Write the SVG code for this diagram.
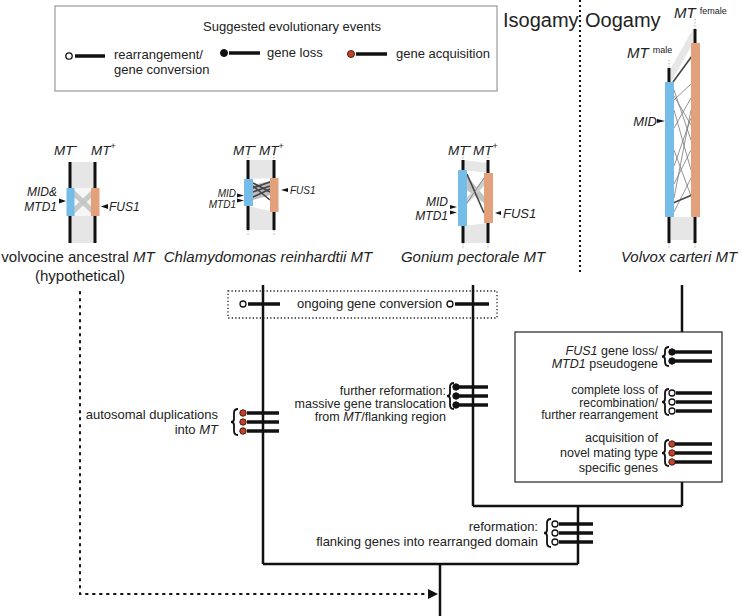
<svg xmlns="http://www.w3.org/2000/svg" width="742" height="616" viewBox="0 0 742 616">
<style>
text{font-family:"Liberation Sans",Arial,sans-serif;fill:#222}
.t13{font-size:13px}
.t12{font-size:12.5px}
.it{font-style:italic}
.end{text-anchor:end}
.mid{text-anchor:middle}
.title{font-size:15px}
.mt{font-size:13.5px;font-style:italic}
.mtv{font-size:15px;font-style:italic}
.sup{font-size:9px;font-style:normal}
.supm{font-size:12px;font-style:normal}
.lbl{font-size:12px;font-style:italic}
.chr{stroke:#111;stroke-width:3;fill:none}
.ext{stroke:#999;stroke-width:0.8;stroke-dasharray:1.5 1.5}
.band{fill:#e6e6e6}
.blue{fill:#74bde9}
.orange{fill:#e2a17b}
.cross{stroke:#777;stroke-width:0.8;fill:none}
.dark{stroke:#444;stroke-width:1.6;fill:none}
.tri{fill:#111}
.tree{stroke:#111;stroke-width:2.5;fill:none}
.bar{stroke:#111;stroke-width:3.5}
.brace{stroke:#111;stroke-width:1.8;fill:none}
.oc{fill:#fff;stroke:#111;stroke-width:1.3}
.bc{fill:#111;stroke:#111;stroke-width:1}
.rc{fill:#c0442a;stroke:#4a1a10;stroke-width:1}
.dot{stroke:#111;stroke-width:2;stroke-dasharray:1.6 5.4;stroke-linecap:round;fill:none}
</style>

<!-- Legend -->
<g id="legend">
  <rect x="55" y="6" width="442" height="85" fill="#fff" stroke="#9a9a9a" stroke-width="1.2"/>
  <text class="t13 mid" x="292" y="31">Suggested evolutionary events</text>
  <circle class="oc" cx="69" cy="56" r="3.2"/>
  <line class="bar" x1="75" y1="56" x2="105" y2="56"/>
  <text class="t13" x="114" y="59">rearrangement/</text>
  <text class="t13" x="114" y="74">gene conversion</text>
  <circle class="bc" cx="224" cy="53" r="3.5"/>
  <line class="bar" x1="229" y1="53" x2="260" y2="53"/>
  <text class="t13" x="267" y="57">gene loss</text>
  <circle class="rc" cx="351" cy="54" r="3.5"/>
  <line class="bar" x1="356" y1="54" x2="387" y2="54"/>
  <text class="t13" x="396" y="58">gene acquisition</text>
</g>

<!-- Isogamy / Oogamy -->
<g id="mode">
  <text x="503" y="27" style="font-size:20px">Isogamy</text>
  <text x="585" y="27" style="font-size:20px">Oogamy</text>
  <line x1="580" y1="0" x2="580" y2="273" stroke="#111" stroke-width="2" stroke-dasharray="2 3"/>
</g>

<!-- Ancestral MT -->
<g id="ancestral">
  <rect class="band" x="70" y="162" width="25" height="81"/>
  <rect x="74" y="188" width="18" height="28" fill="#f6f6f6"/>
  <polygon points="74,190 74,197 92,214 92,207" fill="#c4c4c4" opacity="0.9"/>
  <polygon points="74,207 74,214 92,197 92,190" fill="#c4c4c4" opacity="0.9"/>
  <line class="chr" x1="70" y1="162" x2="70" y2="243"/>
  <line class="chr" x1="95" y1="162" x2="95" y2="243"/>
  <rect class="blue" x="66.5" y="188" width="8" height="28"/>
  <rect class="orange" x="91" y="188" width="8.5" height="28"/>
  <text class="mt" x="54" y="155">MT<tspan class="supm" dy="-5">-</tspan></text>
  <text class="mt" x="91" y="155">MT<tspan class="sup" dy="-6">+</tspan></text>
  <text class="lbl end" x="57" y="196">MID&amp;</text>
  <text class="lbl end" x="57" y="211">MTD1</text>
  <polygon class="tri" points="59,198.5 66,201 59,203.5"/>
  <polygon class="tri" points="108,204 101,206.5 108,209"/>
  <text class="lbl" x="109" y="211">FUS1</text>
  <text class="title mid" x="78" y="262">volvocine ancestral <tspan class="it">MT</tspan></text>
  <text class="title mid" x="80" y="281">(hypothetical)</text>
</g>

<!-- Chlamydomonas MT -->
<g id="chlamydomonas">
  <polygon class="band" points="248,160 274,160 274,178 248,179"/>
  <polygon class="band" points="248,206 274,212 274,230 248,230"/>
  <polygon points="253,185 270,181 270,195 253,200" fill="#bdbdbd"/>
  <line class="dark" x1="253" y1="183" x2="270" y2="192"/>
  <line class="dark" x1="253" y1="188" x2="270" y2="182"/>
  <line class="dark" x1="253" y1="192" x2="270" y2="186"/>
  <line class="dark" x1="253" y1="197" x2="270" y2="189"/>
  <line class="dark" x1="253" y1="186" x2="270" y2="200"/>
  <line class="ext" x1="248" y1="154" x2="248" y2="160"/>
  <line class="ext" x1="274" y1="154" x2="274" y2="160"/>
  <line class="ext" x1="248" y1="230" x2="248" y2="236"/>
  <line class="ext" x1="274" y1="230" x2="274" y2="236"/>
  <line class="chr" x1="248" y1="160" x2="248" y2="230"/>
  <line class="chr" x1="274" y1="160" x2="274" y2="230"/>
  <rect class="blue" x="244" y="179" width="9" height="27"/>
  <rect class="orange" x="270" y="178" width="8.5" height="34"/>
  <text class="mt" x="233" y="155">MT<tspan class="supm" dy="-5">-</tspan></text>
  <text class="mt" x="259" y="155">MT<tspan class="sup" dy="-6">+</tspan></text>
  <text class="end" x="236" y="196.5" style="font-size:10px;font-style:italic">MID</text>
  <text class="end" x="236" y="207.5" style="font-size:10px;font-style:italic">MTD1</text>
  <polygon class="tri" points="237,193.5 244,195.5 237,197.5"/>
  <polygon class="tri" points="237,198.5 244,200.5 237,202.5"/>
  <polygon class="tri" points="288,188 281,190 288,192"/>
  <text x="290" y="194" style="font-size:10px;font-style:italic">FUS1</text>
  <text class="title mid" x="268" y="262"><tspan class="it">Chlamydomonas reinhardtii MT</tspan></text>
</g>

<!-- Gonium MT -->
<g id="gonium">
  <polygon class="band" points="463,160 488,163 488,173 463,170"/>
  <polygon class="band" points="463,226 488,223 488,243 463,243"/>
  <polygon points="467,176 484,196 484,203 467,190" fill="#c2c2c2"/>
  <polygon points="467,198 484,178 484,186 467,204" fill="#d0d0d0"/>
  <line class="dark" x1="467" y1="174" x2="484" y2="213"/>
  <line class="cross" x1="467" y1="203" x2="484" y2="178"/>
  <line class="ext" x1="463" y1="154" x2="463" y2="160"/>
  <line class="ext" x1="488" y1="154" x2="488" y2="160"/>
  <line class="ext" x1="463" y1="243" x2="463" y2="249"/>
  <line class="ext" x1="488" y1="243" x2="488" y2="249"/>
  <line class="chr" x1="463" y1="160" x2="463" y2="243"/>
  <line class="chr" x1="488" y1="160" x2="488" y2="243"/>
  <rect class="blue" x="458" y="170" width="9" height="56"/>
  <rect class="orange" x="484" y="173" width="9" height="50"/>
  <text class="mt" x="448" y="155">MT<tspan class="supm" dy="-5">-</tspan></text>
  <text class="mt" x="473" y="155">MT<tspan class="sup" dy="-6">+</tspan></text>
  <text class="lbl end" x="448" y="206">MID</text>
  <text class="lbl end" x="448" y="220">MTD1</text>
  <polygon class="tri" points="450,205 457,207 450,209"/>
  <polygon class="tri" points="450,210.5 457,212.5 450,214.5"/>
  <polygon class="tri" points="501,211 495,213 501,215"/>
  <text class="lbl" x="503" y="218" style="font-size:13px">FUS1</text>
  <text class="title mid" x="473" y="262"><tspan class="it">Gonium pectorale MT</tspan></text>
</g>

<!-- Volvox MT -->
<g id="volvox">
  <polygon class="band" points="671,68 693,29 693,43 671,82"/>
  <rect class="band" x="671" y="217" width="22" height="23"/>
  <line class="cross" x1="674" y1="90" x2="691" y2="140"/>
  <line class="cross" x1="674" y1="100" x2="691" y2="84"/>
  <line class="cross" x1="674" y1="110" x2="691" y2="170"/>
  <line class="cross" x1="674" y1="128" x2="691" y2="98"/>
  <line class="cross" x1="674" y1="150" x2="691" y2="196"/>
  <line class="cross" x1="674" y1="166" x2="691" y2="118"/>
  <line class="cross" x1="674" y1="184" x2="691" y2="150"/>
  <line class="cross" x1="674" y1="198" x2="691" y2="110"/>
  <line class="cross" x1="674" y1="212" x2="691" y2="178"/>
  <line class="cross" x1="674" y1="96" x2="691" y2="125"/>
  <line class="dark" x1="673" y1="82" x2="692" y2="56"/>
  <line class="dark" x1="673" y1="203" x2="692" y2="195"/>
  <line class="ext" x1="669" y1="60" x2="669" y2="68"/>
  <line class="ext" x1="695" y1="19" x2="695" y2="29"/>
  <line class="ext" x1="669" y1="243" x2="669" y2="248"/>
  <line class="ext" x1="695" y1="243" x2="695" y2="248"/>
  <line class="chr" x1="669" y1="68" x2="669" y2="243"/>
  <line class="chr" x1="695" y1="29" x2="695" y2="243"/>
  <rect class="blue" x="665" y="82" width="9" height="135"/>
  <rect class="orange" x="691" y="43" width="9" height="174"/>
  <text class="mtv" x="627" y="58">MT <tspan class="sup" dy="-5">male</tspan></text>
  <text class="mtv" x="674" y="18">MT <tspan class="sup" dy="-4">female</tspan></text>
  <text class="lbl end" x="657" y="126" style="font-size:13px">MID</text>
  <polygon class="tri" points="657,119 665,121 657,123"/>
  <text class="title mid" x="679" y="262"><tspan class="it">Volvox carteri MT</tspan></text>
</g>

<!-- Connectors / tree -->
<g id="connectors">
  <path class="tree" d="M263,285 V564 M473,285 V506 M682,285 V506 M473,506 H682 M578,506 V564 M263,564 H578 M440,564 V616"/>
  <path class="dot" d="M80,292 V594 H428"/>
  <polygon points="428,589 438,594 428,599" fill="#111"/>
</g>

<!-- ongoing gene conversion -->
<g id="ongoing">
  <rect x="228" y="291" width="269" height="27" fill="none" stroke="#222" stroke-width="1.3" stroke-dasharray="1.3 2.2"/>
  <circle class="oc" cx="243" cy="304" r="3"/>
  <line class="bar" x1="248" y1="304" x2="280" y2="304"/>
  <text class="t13" x="297" y="308">ongoing gene conversion</text>
  <circle class="oc" cx="450" cy="304" r="3"/>
  <line class="bar" x1="455" y1="304" x2="489" y2="304"/>
</g>

<!-- autosomal duplications -->
<g id="autosomal">
  <text class="t13 end" x="218" y="419">autosomal duplications</text>
  <text class="t13 end" x="218" y="434">into <tspan class="it">MT</tspan></text>
  <path class="brace" d="M238,409 Q234,409 234,413 L234,419 Q234,422 231,422 Q234,422 234,425 L234,431 Q234,435 238,435"/>
  <circle class="rc" cx="243" cy="413" r="3.2"/>
  <circle class="rc" cx="243" cy="422" r="3.2"/>
  <circle class="rc" cx="243" cy="431" r="3.2"/>
  <line class="bar" x1="247" y1="413" x2="279" y2="413"/>
  <line class="bar" x1="247" y1="422" x2="279" y2="422"/>
  <line class="bar" x1="247" y1="431" x2="279" y2="431"/>
</g>

<!-- further reformation -->
<g id="further-reformation">
  <text class="t12 end" x="446" y="395">further reformation:</text>
  <text class="t12 end" x="446" y="408">massive gene translocation</text>
  <text class="t12 end" x="446" y="421">from <tspan class="it">MT</tspan>/flanking region</text>
  <path class="brace" d="M454,383 Q450,383 450,387 L450,393 Q450,396 447,396 Q450,396 450,399 L450,405 Q450,409 454,409"/>
  <circle class="bc" cx="456" cy="387" r="3.2"/>
  <circle class="bc" cx="456" cy="396" r="3.2"/>
  <circle class="bc" cx="456" cy="405" r="3.2"/>
  <line class="bar" x1="459" y1="387" x2="488" y2="387"/>
  <line class="bar" x1="459" y1="396" x2="488" y2="396"/>
  <line class="bar" x1="459" y1="405" x2="488" y2="405"/>
</g>

<!-- Volvox events box -->
<g id="volvox-events">
  <rect x="515" y="332" width="207" height="150" fill="#fff" stroke="#222" stroke-width="1.2"/>
  <text class="t12 end" x="658" y="355"><tspan class="it">FUS1</tspan> gene loss/</text>
  <text class="t12 end" x="658" y="368"><tspan class="it">MTD1</tspan> pseudogene</text>
  <path class="brace" d="M669,347 Q665,347 665,351 L665,353.5 Q665,356.5 662,356.5 Q665,356.5 665,359.5 L665,362 Q665,366 669,366"/>
  <circle class="bc" cx="672" cy="352" r="3.2"/>
  <circle class="bc" cx="672" cy="361" r="3.2"/>
  <line class="bar" x1="675" y1="352" x2="712" y2="352"/>
  <line class="bar" x1="675" y1="361" x2="712" y2="361"/>

  <text class="end" x="658" y="394" style="font-size:12px">complete loss of</text>
  <text class="end" x="658" y="406.5" style="font-size:12px">recombination/</text>
  <text class="end" x="658" y="419" style="font-size:12px">further rearrangement</text>
  <path class="brace" d="M669,389 Q665,389 665,393 L665,399 Q665,402 662,402 Q665,402 665,405 L665,411 Q665,415 669,415"/>
  <circle class="oc" cx="672" cy="393" r="3"/>
  <circle class="oc" cx="672" cy="402" r="3"/>
  <circle class="oc" cx="672" cy="411" r="3"/>
  <line class="bar" x1="676" y1="393" x2="712" y2="393"/>
  <line class="bar" x1="676" y1="402" x2="712" y2="402"/>
  <line class="bar" x1="676" y1="411" x2="712" y2="411"/>

  <text class="t12 end" x="658" y="442">acquisition of</text>
  <text class="t12 end" x="658" y="457">novel mating type</text>
  <text class="t12 end" x="658" y="472">specific genes</text>
  <path class="brace" d="M669,440 Q665,440 665,444 L665,450 Q665,453 662,453 Q665,453 665,456 L665,462 Q665,466 669,466"/>
  <circle class="rc" cx="672" cy="444" r="3.2"/>
  <circle class="rc" cx="672" cy="453" r="3.2"/>
  <circle class="rc" cx="672" cy="462" r="3.2"/>
  <line class="bar" x1="675" y1="444" x2="712" y2="444"/>
  <line class="bar" x1="675" y1="453" x2="712" y2="453"/>
  <line class="bar" x1="675" y1="462" x2="712" y2="462"/>
</g>

<!-- reformation -->
<g id="reformation">
  <text class="t13 end" x="538" y="531">reformation:</text>
  <text class="t13 end" x="538" y="546">flanking genes into rearranged domain</text>
  <path class="brace" d="M551,519 Q547,519 547,523 L547,530 Q547,533 544,533 Q547,533 547,536 L547,543 Q547,547 551,547"/>
  <circle class="oc" cx="555" cy="524" r="3"/>
  <circle class="oc" cx="555" cy="533" r="3"/>
  <circle class="oc" cx="555" cy="542" r="3"/>
  <line class="bar" x1="559" y1="524" x2="593" y2="524"/>
  <line class="bar" x1="559" y1="533" x2="593" y2="533"/>
  <line class="bar" x1="559" y1="542" x2="593" y2="542"/>
</g>
</svg>
